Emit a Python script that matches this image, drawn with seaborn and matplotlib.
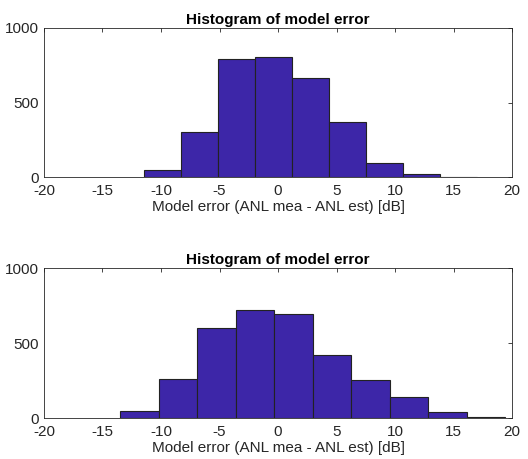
import numpy as np
import pandas as pd
import matplotlib
matplotlib.use('Agg')
import matplotlib.pyplot as plt
import seaborn as sns

sns.set_style("white")
plt.rcParams['font.family'] = ['Liberation Sans', 'DejaVu Sans']
plt.rcParams['axes.unicode_minus'] = False

# top histogram: bin edges and counts
top_edges = [-11.42, -8.26, -5.10, -1.94, 1.22, 4.38, 7.54, 10.70, 13.86, 17.02]
top_counts = [49, 305, 795, 808, 665, 372, 98, 25, 5]

# bottom histogram
bot_edges = [-13.48, -10.19, -6.90, -3.61, -0.32, 2.97, 6.26, 9.55, 12.84, 16.13, 19.42]
bot_counts = [47, 259, 599, 722, 694, 423, 255, 144, 40, 11]

title = 'Histogram of model error'
xlabel = 'Model error (ANL mea - ANL est) [dB]'
bar_color = '#3d26a8'

fig = plt.figure(figsize=(5.28, 4.59), dpi=100)
W, H = 528, 459
ax1 = fig.add_axes([44 / W, 1 - 177.3 / H, 468 / W, 149.3 / H])
ax2 = fig.add_axes([44 / W, 1 - 418.3 / H, 468 / W, 150.3 / H])

for ax, edges, counts in [(ax1, top_edges, top_counts), (ax2, bot_edges, bot_counts)]:
    e = np.array(edges)
    df = pd.DataFrame({'err': (e[:-1] + e[1:]) / 2, 'n': counts})
    sns.histplot(data=df, x='err', weights='n', bins=list(edges), ax=ax,
                 color=bar_color, alpha=1, edgecolor='#222222', linewidth=0.8)
    ax.set_xlim(-20, 20)
    ax.set_ylim(0, 1000)
    ax.set_xticks(range(-20, 21, 5))
    ax.set_yticks([0, 500, 1000])
    ax.tick_params(direction='in', top=True, right=True, length=3,
                   labelsize=11, colors='#262626', width=0.6)
    ax.tick_params(axis='y', pad=4)
    ax.tick_params(axis='x', pad=5)
    ax.set_title(title, fontsize=11, fontweight='bold', pad=3, color='black')
    ax.set_xlabel(xlabel, fontsize=11, color='#262626', labelpad=1)
    ax.set_ylabel('')
    for s in ax.spines.values():
        s.set_color('#262626')
        s.set_linewidth(0.6)
        s.set_visible(True)

fig.savefig('out.png', dpi=100)
